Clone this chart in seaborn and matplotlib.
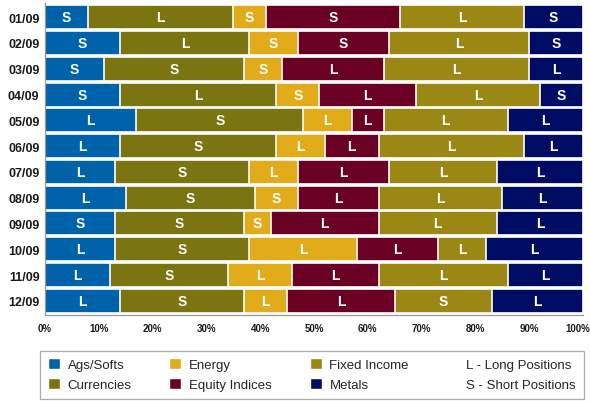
import matplotlib
matplotlib.use('Agg')
import matplotlib.pyplot as plt
import matplotlib.transforms as mtransforms
from matplotlib.patches import Patch
import numpy as np
import seaborn as sns

meses = ['01/09', '02/09', '03/09', '04/09', '05/09', '06/09',
         '07/09', '08/09', '09/09', '10/09', '11/09', '12/09']

sectores = ['Ags/Softs', 'Currencies', 'Energy', 'Equity Indices', 'Fixed Income', 'Metals']
colores = ['#0063a9', '#7a7511', '#e2ab1a', '#6a0023', '#9b8713', '#000b63']

ags = [8, 14, 11, 14, 17, 14, 13, 15, 13, 13, 12, 14]
currencies = [27, 24, 26, 29, 31, 29, 25, 24, 24, 25, 22, 23]
energy = [6, 9, 7, 8, 9, 9, 9, 8, 5, 20, 12, 8]
equity = [25, 17, 19, 18, 6, 10, 17, 15, 20, 15, 16, 20]
fixed = [23, 26, 27, 23, 23, 27, 20, 23, 22, 9, 24, 18]
metals = [11, 10, 10, 8, 14, 11, 16, 15, 16, 18, 14, 17]

# L = posicion larga, S = posicion corta
posiciones = [
    ['S', 'L', 'S', 'S', 'L', 'S'],
    ['S', 'L', 'S', 'S', 'L', 'S'],
    ['S', 'S', 'S', 'L', 'L', 'L'],
    ['S', 'L', 'S', 'L', 'L', 'S'],
    ['L', 'S', 'L', 'L', 'L', 'L'],
    ['L', 'S', 'L', 'L', 'L', 'L'],
    ['L', 'S', 'L', 'L', 'L', 'L'],
    ['L', 'S', 'S', 'L', 'L', 'L'],
    ['S', 'S', 'S', 'L', 'L', 'L'],
    ['L', 'S', 'L', 'L', 'L', 'L'],
    ['L', 'S', 'L', 'L', 'L', 'L'],
    ['L', 'S', 'L', 'L', 'S', 'L'],
]

valores = np.array([ags, currencies, energy, equity, fixed, metals], dtype=float)
valores = valores / valores.sum(axis=0) * 100
acumulado = np.cumsum(valores, axis=0)

sns.set_style('white')
plt.rcParams['font.family'] = ['Liberation Sans', 'DejaVu Sans']

fig = plt.figure(figsize=(5.9, 4.02), dpi=100)
axes = fig.add_axes([45 / 590, 1 - 316 / 402, 538 / 590, 312 / 402])

# se dibujan de mayor a menor acumulado para que queden apilados
for i in range(len(sectores) - 1, -1, -1):
    sns.barplot(x=acumulado[i], y=meses, orient='h', color=colores[i],
                width=0.93, edgecolor='white', linewidth=1.2,
                saturation=1, ax=axes)

for fila, mes in enumerate(meses):
    for i in range(len(sectores)):
        centro = acumulado[i, fila] - valores[i, fila] / 2
        axes.text(centro, fila, posiciones[fila][i], color='white',
                  fontsize=10, fontweight='bold', ha='center', va='center')

axes.set_xlim(0, 100)
axes.set_ylim(11.55, -0.55)
axes.set_xticks(range(0, 101, 10))
axes.set_xticklabels([f'{v}%' for v in range(0, 101, 10)])
axes.set(xlabel='', ylabel='')
axes.tick_params(axis='x', length=4, width=0.8, color='#888888', labelsize=7, pad=2)
axes.tick_params(axis='y', length=0, labelsize=9, pad=4)
for lab in axes.get_xticklabels() + axes.get_yticklabels():
    lab.set_fontweight('bold')
    lab.set_color('#1a1a1a')

# la etiqueta 100% se corre un poco para que quepa
ultima = axes.get_xticklabels()[-1]
ultima.set_transform(ultima.get_transform() +
                     mtransforms.ScaledTranslation(-5 / 100, 0, fig.dpi_scale_trans))

sns.despine(ax=axes, top=True, right=True)
for lado in ['left', 'bottom']:
    axes.spines[lado].set_color('#999999')
    axes.spines[lado].set_linewidth(0.9)

manejadores = [Patch(facecolor=c, label=s) for c, s in zip(colores, sectores)]
manejadores += [Patch(facecolor='none', edgecolor='none', label='L - Long Positions'),
                Patch(facecolor='none', edgecolor='none', label='S - Short Positions')]
ley = fig.legend(handles=manejadores, ncol=4, loc='lower left',
                 bbox_to_anchor=(40 / 590, 2 / 402, 544 / 590, 54 / 402),
                 mode='expand', borderaxespad=0, fontsize=9.5, frameon=True,
                 fancybox=False, handlelength=0.9, handleheight=0.9,
                 handletextpad=0.6, columnspacing=0.5, labelspacing=0.5,
                 borderpad=0.6)
ley.get_frame().set_edgecolor('#999999')
ley.get_frame().set_linewidth(0.9)

fig.savefig('out.png', dpi=100)
